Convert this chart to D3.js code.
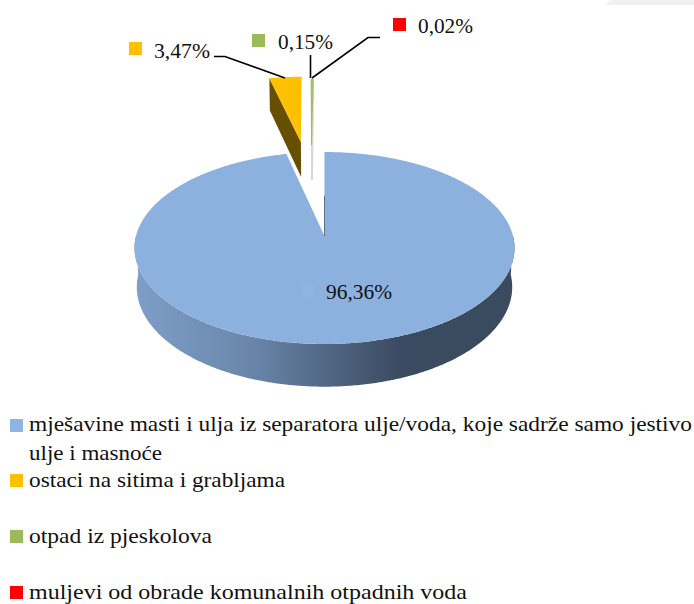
<!DOCTYPE html>
<html>
<head>
<meta charset="utf-8">
<script src="https://cdn.jsdelivr.net/npm/d3@7"></script>
<style>
  html, body { margin: 0; padding: 0; background: #fff; }
  text { font-family: "Liberation Serif", serif; fill: #111; }
</style>
</head>
<body>
<div id="chart"></div>
<script>
// chart data
const categories = [
  "mješavine masti i ulja iz separatora ulje/voda, koje sadrže samo jestivo ulje i masnoće",
  "ostaci na sitima i grabljama",
  "otpad iz pjeskolova",
  "muljevi od obrade komunalnih otpadnih voda"
];
const values = [96.36, 3.47, 0.15, 0.02];
const valueLabels = ["96,36%", "3,47%", "0,15%", "0,02%"];
const colors = ["#8db1de", "#ffc000", "#9bbb59", "#ff0000"];
const legendColors = ["#8eb4e3", "#ffc000", "#9bbb59", "#ff0000"];
const sideColors = ["#4a5d78", "#665000", "#b5b29c", "#b5b29c"];

// setting up constants
const FRAME_WIDTH = 694;
const FRAME_HEIGHT = 604;
const CX = 324.5, R = 188.5;
// perspective of the tilted disc: v=-1 back rim, v=1 front rim
const PERSP = {a: 65, b: 236, c: -0.125, depthY: 42, depthW: 0.012};
// how far each slice is pulled out of the pie, in disc units
const OFFSETS = [[0, 0], [-0.143, -1.136], [-0.078, -1.095], [-0.074, -1.095]];

const FRAME = d3.select("#chart")
  .append("svg")
  .attr("width", FRAME_WIDTH)
  .attr("height", FRAME_HEIGHT)
  .style("display", "block");

// side gradient of the big slice
const grad = FRAME.append("defs").append("linearGradient")
  .attr("id", "side")
  .attr("gradientUnits", "userSpaceOnUse")
  .attr("x1", 134).attr("x2", 515).attr("y1", 0).attr("y2", 0);
grad.append("stop").attr("offset", "0%").attr("stop-color", "#7f9fc8");
grad.append("stop").attr("offset", "30%").attr("stop-color", "#6a87ab");
grad.append("stop").attr("offset", "70%").attr("stop-color", "#3a4a60");
grad.append("stop").attr("offset", "100%").attr("stop-color", "#3b4a5f");

// the grey corner left over at the top of the scan
FRAME.append("path")
  .attr("d", "M605,5 L612,0 L694,0 L694,5 Z")
  .attr("fill", "#f0f2f1");

function project(u, v, z) {
  const w = PERSP.c * v + 1 + z * PERSP.depthW;
  return [CX + R * u / w, (PERSP.a * v + PERSP.b + z * PERSP.depthY) / w];
}
// point of slice i at radius r, angle t
function point(i, r, t, z) {
  const o = OFFSETS[i];
  return project(o[0] + r * Math.sin(t), o[1] - r * Math.cos(t), z);
}

const pie = d3.pie().sort(null);
const slices = pie(values);
const line = d3.line();

function rim(i, t0, t1, z) {
  const n = Math.max(2, Math.ceil((t1 - t0) / 0.01));
  return d3.range(n + 1).map(k => point(i, 1, t0 + (t1 - t0) * k / n, z));
}

const RAD = Math.PI / 180;

// outer wall of the big slice, front half only
const front = rim(0, 90 * RAD, 270 * RAD, 0);
const frontLow = rim(0, 90 * RAD, 270 * RAD, 1).reverse();
FRAME.append("path")
  .attr("d", line(front.concat(frontLow)) + "Z")
  .attr("fill", "url(#side)");

// cut faces of the pulled out slices
slices.forEach(function(d, i) {
  if (i === 0) return;
  const a = d.startAngle;
  const face = [point(i, 0, a, 0), point(i, 1, a, 0), point(i, 1, a, 1), point(i, 0, a, 1)];
  FRAME.append("path")
    .attr("d", line(face) + "Z")
    .attr("fill", sideColors[i])
    .attr("stroke", sideColors[i])
    .attr("stroke-width", i === 1 ? 0 : 1)
    .attr("opacity", i === 1 ? 1 : 0.45);
});

// top faces
slices.forEach(function(d, i) {
  const pts = [point(i, 0, d.startAngle, 0)].concat(rim(i, d.startAngle, d.endAngle, 0));
  FRAME.append("path")
    .attr("d", line(pts) + "Z")
    .attr("fill", colors[i])
    .attr("stroke", i === 2 ? colors[i] : "none")
    .attr("stroke-width", 0.8);
});

// thin dark edge where the big slice starts
FRAME.append("path")
  .attr("d", line([point(0, 0.45, 0, 0), point(0, 0, 0, 0)]))
  .attr("stroke", "#5d7088")
  .attr("stroke-width", 1)
  .attr("fill", "none");

// leader lines
const leaders = [
  [[214, 56.5], [225, 56.5], [285, 78]],
  [[310.5, 55], [310.5, 78]],
  [[380, 37.5], [368, 37.5], [312, 78]]
];
leaders.forEach(function(l) {
  FRAME.append("path")
    .attr("d", line(l))
    .attr("fill", "none")
    .attr("stroke", "#000")
    .attr("stroke-width", 1.6);
});

// value labels with their small keys
const labelPos = [
  {sx: 301, sy: 284, tx: 326, ty: 299, w: 66, key: "#90b3e0"},
  {sx: 129, sy: 42, tx: 154, ty: 58, w: 56},
  {sx: 252, sy: 34, tx: 278, ty: 49, w: 55},
  {sx: 393, sy: 18, tx: 418, ty: 33, w: 55}
];
valueLabels.forEach(function(t, i) {
  const p = labelPos[i];
  FRAME.append("rect")
    .attr("x", p.sx).attr("y", p.sy)
    .attr("width", 13).attr("height", 13)
    .attr("fill", p.key || colors[i]);
  FRAME.append("text")
    .attr("x", p.tx).attr("y", p.ty)
    .attr("font-size", 22)
    .attr("textLength", p.w)
    .attr("lengthAdjust", "spacingAndGlyphs")
    .text(t);
});

// legend, first entry wraps on two lines
const cut = categories[0].indexOf(" ulje i masn");
const legendRows = [
  {y: 419, lines: [[categories[0].slice(0, cut), 431, 663], [categories[0].slice(cut + 1), 460, 133]]},
  {y: 474, lines: [[categories[1], 487, 256]]},
  {y: 530, lines: [[categories[2], 543, 183]]},
  {y: 586, lines: [[categories[3], 599, 438]]}
];
legendRows.forEach(function(r, i) {
  FRAME.append("rect")
    .attr("x", 10).attr("y", r.y)
    .attr("width", 13).attr("height", 13)
    .attr("fill", legendColors[i]);
  r.lines.forEach(function(l) {
    FRAME.append("text")
      .attr("x", 29).attr("y", l[1])
      .attr("font-size", 22)
      .attr("textLength", l[2])
      .attr("lengthAdjust", "spacingAndGlyphs")
      .text(l[0]);
  });
});
</script>
</body>
</html>
